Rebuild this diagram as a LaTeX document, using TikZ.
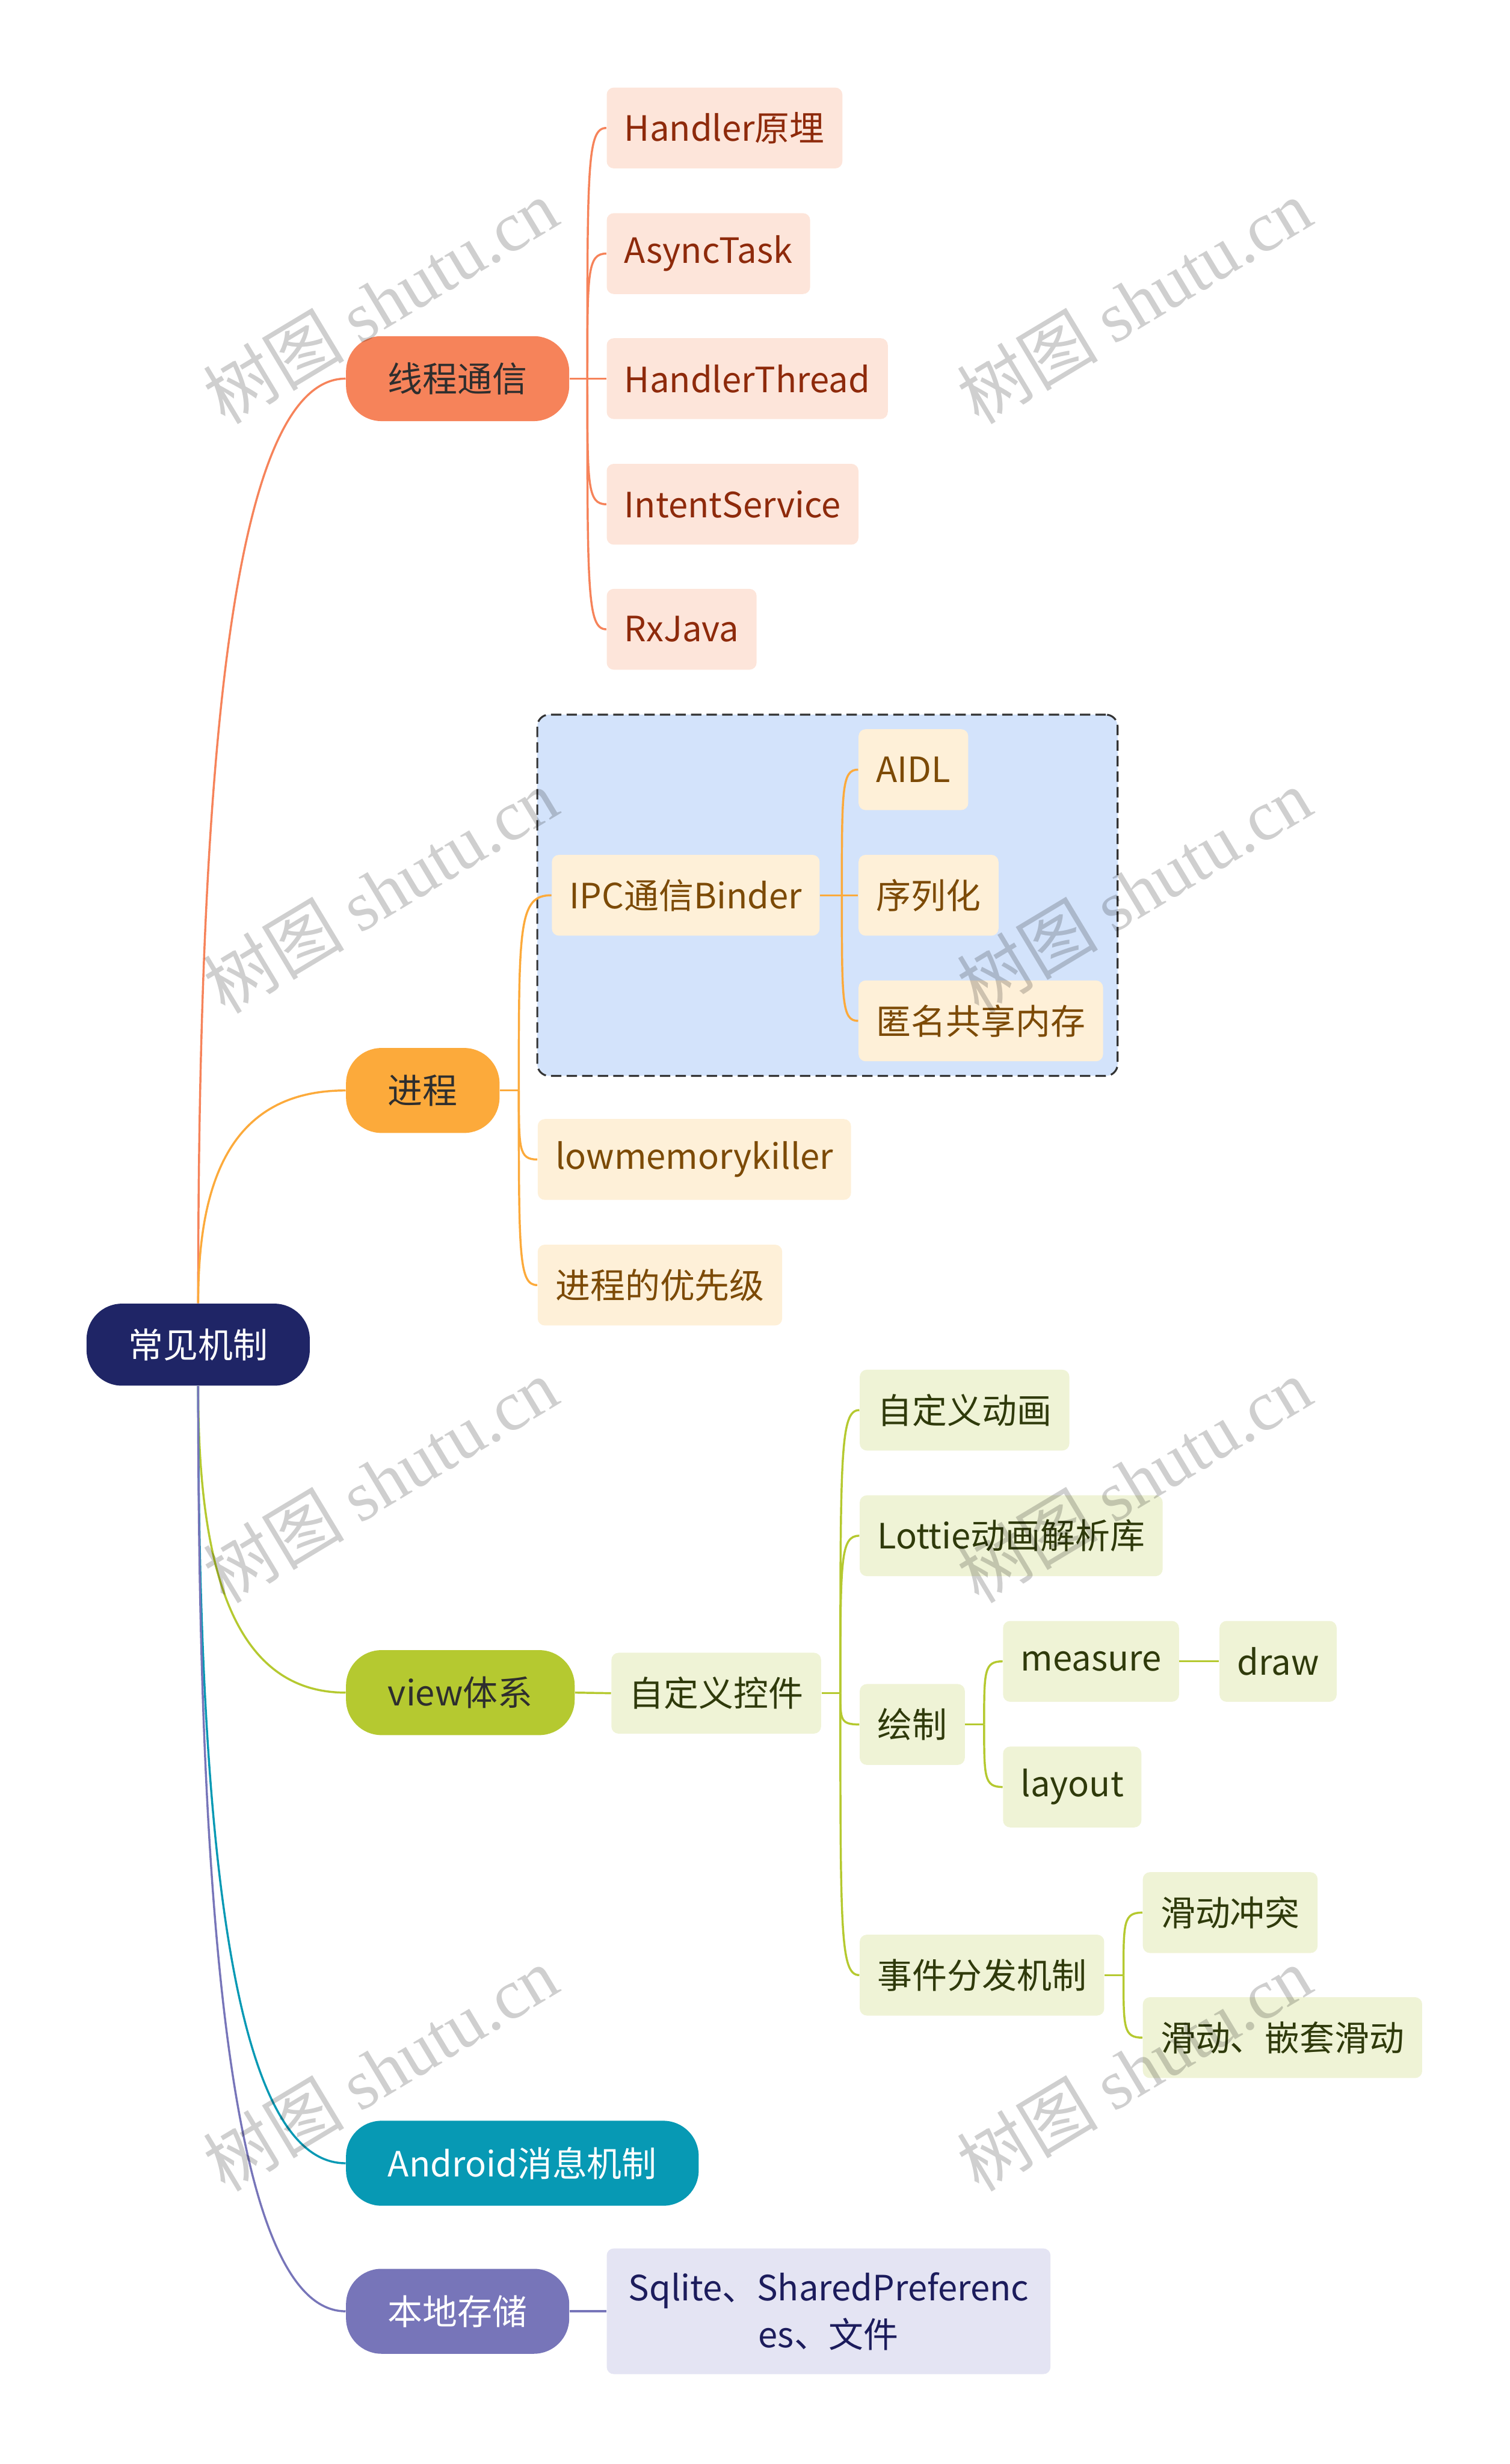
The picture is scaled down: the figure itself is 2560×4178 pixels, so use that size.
\documentclass[tikz,border=0pt]{standalone}
\usepackage{fontspec}
\setmainfont{Noto Sans CJK SC}
\newfontfamily\wmlatin{Liberation Serif}
\usetikzlibrary{calc,fit,backgrounds}
\definecolor{cRoot}{HTML}{1F2566}
\definecolor{cTopTx}{HTML}{2E2E2E}
\definecolor{cThr}{HTML}{F6835A}
\definecolor{cThrBg}{HTML}{FDE5DA}
\definecolor{cThrTx}{HTML}{8E2A0B}
\definecolor{cPro}{HTML}{FCAA3B}
\definecolor{cProBg}{HTML}{FEF0D8}
\definecolor{cProTx}{HTML}{7C4A06}
\definecolor{cIpc}{HTML}{D3E3FB}
\definecolor{cIpcLn}{HTML}{333333}
\definecolor{cView}{HTML}{B5C930}
\definecolor{cViewBg}{HTML}{EFF3D6}
\definecolor{cViewTx}{HTML}{2F3A0B}
\definecolor{cMsg}{HTML}{0799B4}
\definecolor{cSto}{HTML}{7775B9}
\definecolor{cStoBg}{HTML}{E4E4F3}
\definecolor{cStoTx}{HTML}{1C1C5C}
\newcommand{\mmfont}{\fontsize{16.8}{22.7}\selectfont}
\tikzset{
  mroot/.style={rectangle, rounded corners=0.6cm, fill=cRoot, text=white,
                inner xsep=0.71cm, minimum height=1.39cm, font=\mmfont},
  mtop/.style={rectangle, rounded corners=0.6cm, text=cTopTx, anchor=west,
               inner xsep=0.71cm, minimum height=1.44cm, font=\mmfont},
  msub/.style={rectangle, rounded corners=0.12cm, anchor=west,
               inner xsep=0.3cm, minimum height=1.37cm, font=\mmfont},
  thrsub/.style={msub, fill=cThrBg, text=cThrTx},
  prosub/.style={msub, fill=cProBg, text=cProTx},
  viewsub/.style={msub, fill=cViewBg, text=cViewTx},
  stosub/.style={msub, fill=cStoBg, text=cStoTx, align=center},
  ipcbox/.style={rectangle, rounded corners=0.2cm, fill=cIpc, draw=cIpcLn,
                 line width=0.9pt, dash pattern=on 5pt off 2.5pt},
  lthr/.style={draw=cThr, line width=1pt},
  lpro/.style={draw=cPro, line width=1pt},
  lview/.style={draw=cView, line width=1pt},
  lmsg/.style={draw=cMsg, line width=1pt},
  lsto/.style={draw=cSto, line width=1pt},
  brc/.style={to path={let \p1=(\tikztostart), \p2=(\tikztotarget) in
      .. controls (\x1,{\y1+0.55*(\y2-\y1)}) and ({\x1+0.2*(\x2-\x1)},\y2) .. (\tikztotarget)}},
  subc/.style={to path={let \p1=(\tikztostart), \p2=(\tikztotarget) in
      .. controls (\x1,{\y1+0.85*(\y2-\y1)}) and (\x1,\y2) .. (\tikztotarget)}},
  wmark/.style={font=\fontsize{34}{34}\selectfont, text=black, opacity=0.19, rotate=31}
}

\begin{document}
\begin{tikzpicture}[x=0.01cm, y=-0.01cm]
\useasboundingbox (0,0) rectangle (2560,4178);

% root and main topics
\node[mroot] (root) at (336,2280) {常见机制};
\node[mtop, fill=cThr] (thr) at (586,642) {线程通信};
\node[mtop, fill=cPro] (pro) at (586,1849) {进程};
\node[mtop, fill=cView] (view) at (586,2870) {view体系};
\node[mtop, fill=cMsg, text=white] (msg) at (586,3668) {Android消息机制};
\node[mtop, fill=cSto, text=white] (sto) at (586,3919) {本地存储};

% 线程通信
\node[thrsub] (handler) at (1028,217) {Handler原埋};
\node[thrsub] (async) at (1028,430) {AsyncTask};
\node[thrsub] (hthread) at (1028,642) {HandlerThread};
\node[thrsub] (intent) at (1028,855) {IntentService};
\node[thrsub] (rxjava) at (1028,1067) {RxJava};

% 进程
\node[prosub] (ipc) at (935,1518) {IPC通信Binder};
\node[prosub] (aidl) at (1455,1305) {AIDL};
\node[prosub] (serial) at (1455,1518) {序列化};
\node[prosub] (ashmem) at (1455,1731) {匿名共享内存};
\node[prosub] (lmk) at (911,1966) {lowmemorykiller};
\node[prosub] (prio) at (911,2179) {进程的优先级};

\begin{pgfonlayer}{background}
\node[ipcbox, fit=(ipc)(aidl)(serial)(ashmem), inner sep=0.24cm] (ipczone) {};
\end{pgfonlayer}

% view体系
\node[viewsub] (custom) at (1036,2871) {自定义控件};
\node[viewsub] (anim) at (1457,2391) {自定义动画};
\node[viewsub] (lottie) at (1457,2604) {Lottie动画解析库};
\node[viewsub] (paint) at (1457,2924) {绘制};
\node[viewsub] (event) at (1457,3349) {事件分发机制};
\node[viewsub] (measure) at (1700,2817) {measure};
\node[viewsub] (layout) at (1700,3030) {layout};
\node[viewsub] (drawn) at (2067,2817) {draw};
\node[viewsub] (conflict) at (1937,3243) {滑动冲突};
\node[viewsub] (nested) at (1937,3455) {滑动、嵌套滑动};

% 本地存储
\node[stosub, minimum width=7.52cm, minimum height=2.13cm] (sqlite) at (1028,3919)
  {Sqlite、SharedPreferenc\\es、文件};

% branches from root
\draw[lthr] (root.north) to[brc] (thr.west);
\draw[lpro] (root.north) to[brc] (pro.west);
\draw[lview] (root.south) to[brc] (view.west);
\draw[lmsg] (root.south) to[brc] (msg.west);
\draw[lsto] (root.south) to[brc] (sto.west);

% sub branches
\coordinate (jthr) at ($(thr.east)+(30,0)$);
\draw[lthr] (thr.east) -- (jthr);
\foreach \c in {handler,async,hthread,intent,rxjava}
  \draw[lthr] (jthr) to[subc] (\c.west);

\coordinate (jpro) at ($(pro.east)+(32,0)$);
\draw[lpro] (pro.east) -- (jpro);
\foreach \c in {ipc,lmk,prio}
  \draw[lpro] (jpro) to[subc] (\c.west);

\coordinate (jipc) at ($(ipc.east)+(37,0)$);
\draw[lpro] (ipc.east) -- (jipc);
\foreach \c in {aidl,serial,ashmem}
  \draw[lpro] (jipc) to[subc] (\c.west);

\draw[lview] (view.east) -- (custom.west);
\coordinate (jcustom) at ($(custom.east)+(32,0)$);
\draw[lview] (custom.east) -- (jcustom);
\foreach \c in {anim,lottie,paint,event}
  \draw[lview] (jcustom) to[subc] (\c.west);

\coordinate (jpaint) at ($(paint.east)+(32,0)$);
\draw[lview] (paint.east) -- (jpaint);
\foreach \c in {measure,layout}
  \draw[lview] (jpaint) to[subc] (\c.west);
\draw[lview] (measure.east) -- (drawn.west);

\coordinate (jevent) at ($(event.east)+(32,0)$);
\draw[lview] (event.east) -- (jevent);
\foreach \c in {conflict,nested}
  \draw[lview] (jevent) to[subc] (\c.west);

\draw[lsto] (sto.east) -- (sqlite.west);

% watermarks
\foreach \i/\wx/\wy in {1/645/511, 2/1923/511, 3/645/1510, 4/1923/1510,
                        5/645/2510, 6/1923/2510, 7/645/3508, 8/1923/3508}
  \node[wmark] (wm\i) at (\wx,\wy) {树图 {\wmlatin shutu.cn}};

\end{tikzpicture}
\end{document}
